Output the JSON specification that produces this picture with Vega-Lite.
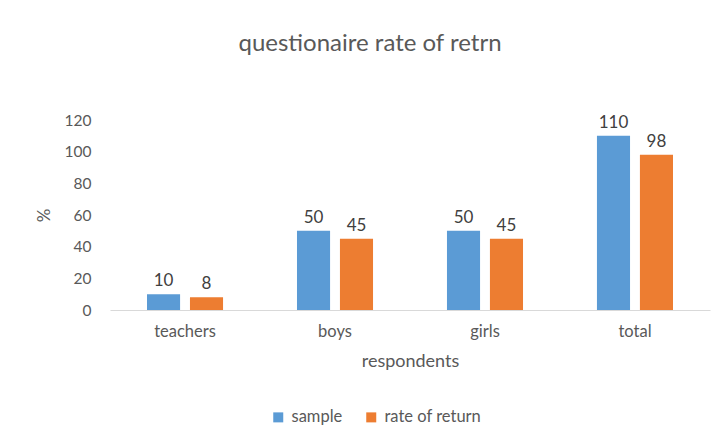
{
  "$schema": "https://vega.github.io/schema/vega-lite/v6.json",
  "width": 600,
  "height": 190,
  "autosize": "none",
  "padding": {"left": 110, "top": 120, "right": 13, "bottom": 129},
  "background": "white",
  "config": {"view": {"stroke": null}},
  "title": {
    "text": "questionaire rate of retrn",
    "anchor": "middle",
    "offset": 57,
    "dx": -40,
    "fontSize": 24,
    "font": "Lato",
    "fontWeight": "normal",
    "color": "#595959"
  },
  "data": {
    "values": [
      {"respondents": "teachers", "series": "sample", "value": 10},
      {"respondents": "teachers", "series": "rate of return", "value": 8},
      {"respondents": "boys", "series": "sample", "value": 50},
      {"respondents": "boys", "series": "rate of return", "value": 45},
      {"respondents": "girls", "series": "sample", "value": 50},
      {"respondents": "girls", "series": "rate of return", "value": 45},
      {"respondents": "total", "series": "sample", "value": 110},
      {"respondents": "total", "series": "rate of return", "value": 98}
    ]
  },
  "encoding": {
    "x": {
      "field": "respondents",
      "type": "nominal",
      "sort": ["teachers", "boys", "girls", "total"],
      "scale": {"paddingInner": 0.493, "paddingOuter": 0.2467},
      "axis": {
        "labelAngle": 0,
        "ticks": false,
        "domainColor": "#D9D9D9",
        "labelPadding": 13,
        "labelFont": "Lato",
        "labelFontSize": 16.5,
        "labelColor": "#595959",
        "title": "respondents",
        "titleFont": "Lato",
        "titleFontSize": 18,
        "titleFontWeight": "normal",
        "titleColor": "#595959",
        "titlePadding": 13
      }
    },
    "xOffset": {
      "field": "series",
      "type": "nominal",
      "sort": ["sample", "rate of return"],
      "scale": {"paddingInner": 0.23, "paddingOuter": 0}
    },
    "y": {
      "field": "value",
      "type": "quantitative",
      "scale": {"domain": [0, 120]},
      "axis": {
        "values": [0, 20, 40, 60, 80, 100, 120],
        "grid": false,
        "domain": false,
        "ticks": false,
        "labelPadding": 19,
        "labelFont": "Lato",
        "labelFontSize": 15.5,
        "labelColor": "#595959",
        "title": "%",
        "titleFont": "Lato",
        "titleFontSize": 17,
        "titleFontWeight": "normal",
        "titleColor": "#595959",
        "titlePadding": 11
      }
    }
  },
  "layer": [
    {
      "mark": {"type": "bar"},
      "encoding": {
        "color": {
          "field": "series",
          "type": "nominal",
          "sort": ["sample", "rate of return"],
          "scale": {"domain": ["sample", "rate of return"], "range": ["#5B9BD5", "#ED7D31"]},
          "legend": {
            "title": null,
            "orient": "none",
            "direction": "horizontal",
            "legendX": 160,
            "legendY": 289,
            "symbolType": "square",
            "symbolSize": 100,
            "symbolStrokeWidth": 0,
            "symbolOpacity": 1,
            "labelFont": "Lato",
            "labelFontSize": 16.5,
            "labelColor": "#595959",
            "columnPadding": 20,
            "labelOffset": 5
          }
        }
      }
    },
    {
      "mark": {"type": "text", "baseline": "alphabetic", "dy": -8, "font": "Lato", "fontSize": 17, "color": "#404040"},
      "encoding": {
        "text": {"field": "value", "type": "quantitative"}
      }
    }
  ]
}
